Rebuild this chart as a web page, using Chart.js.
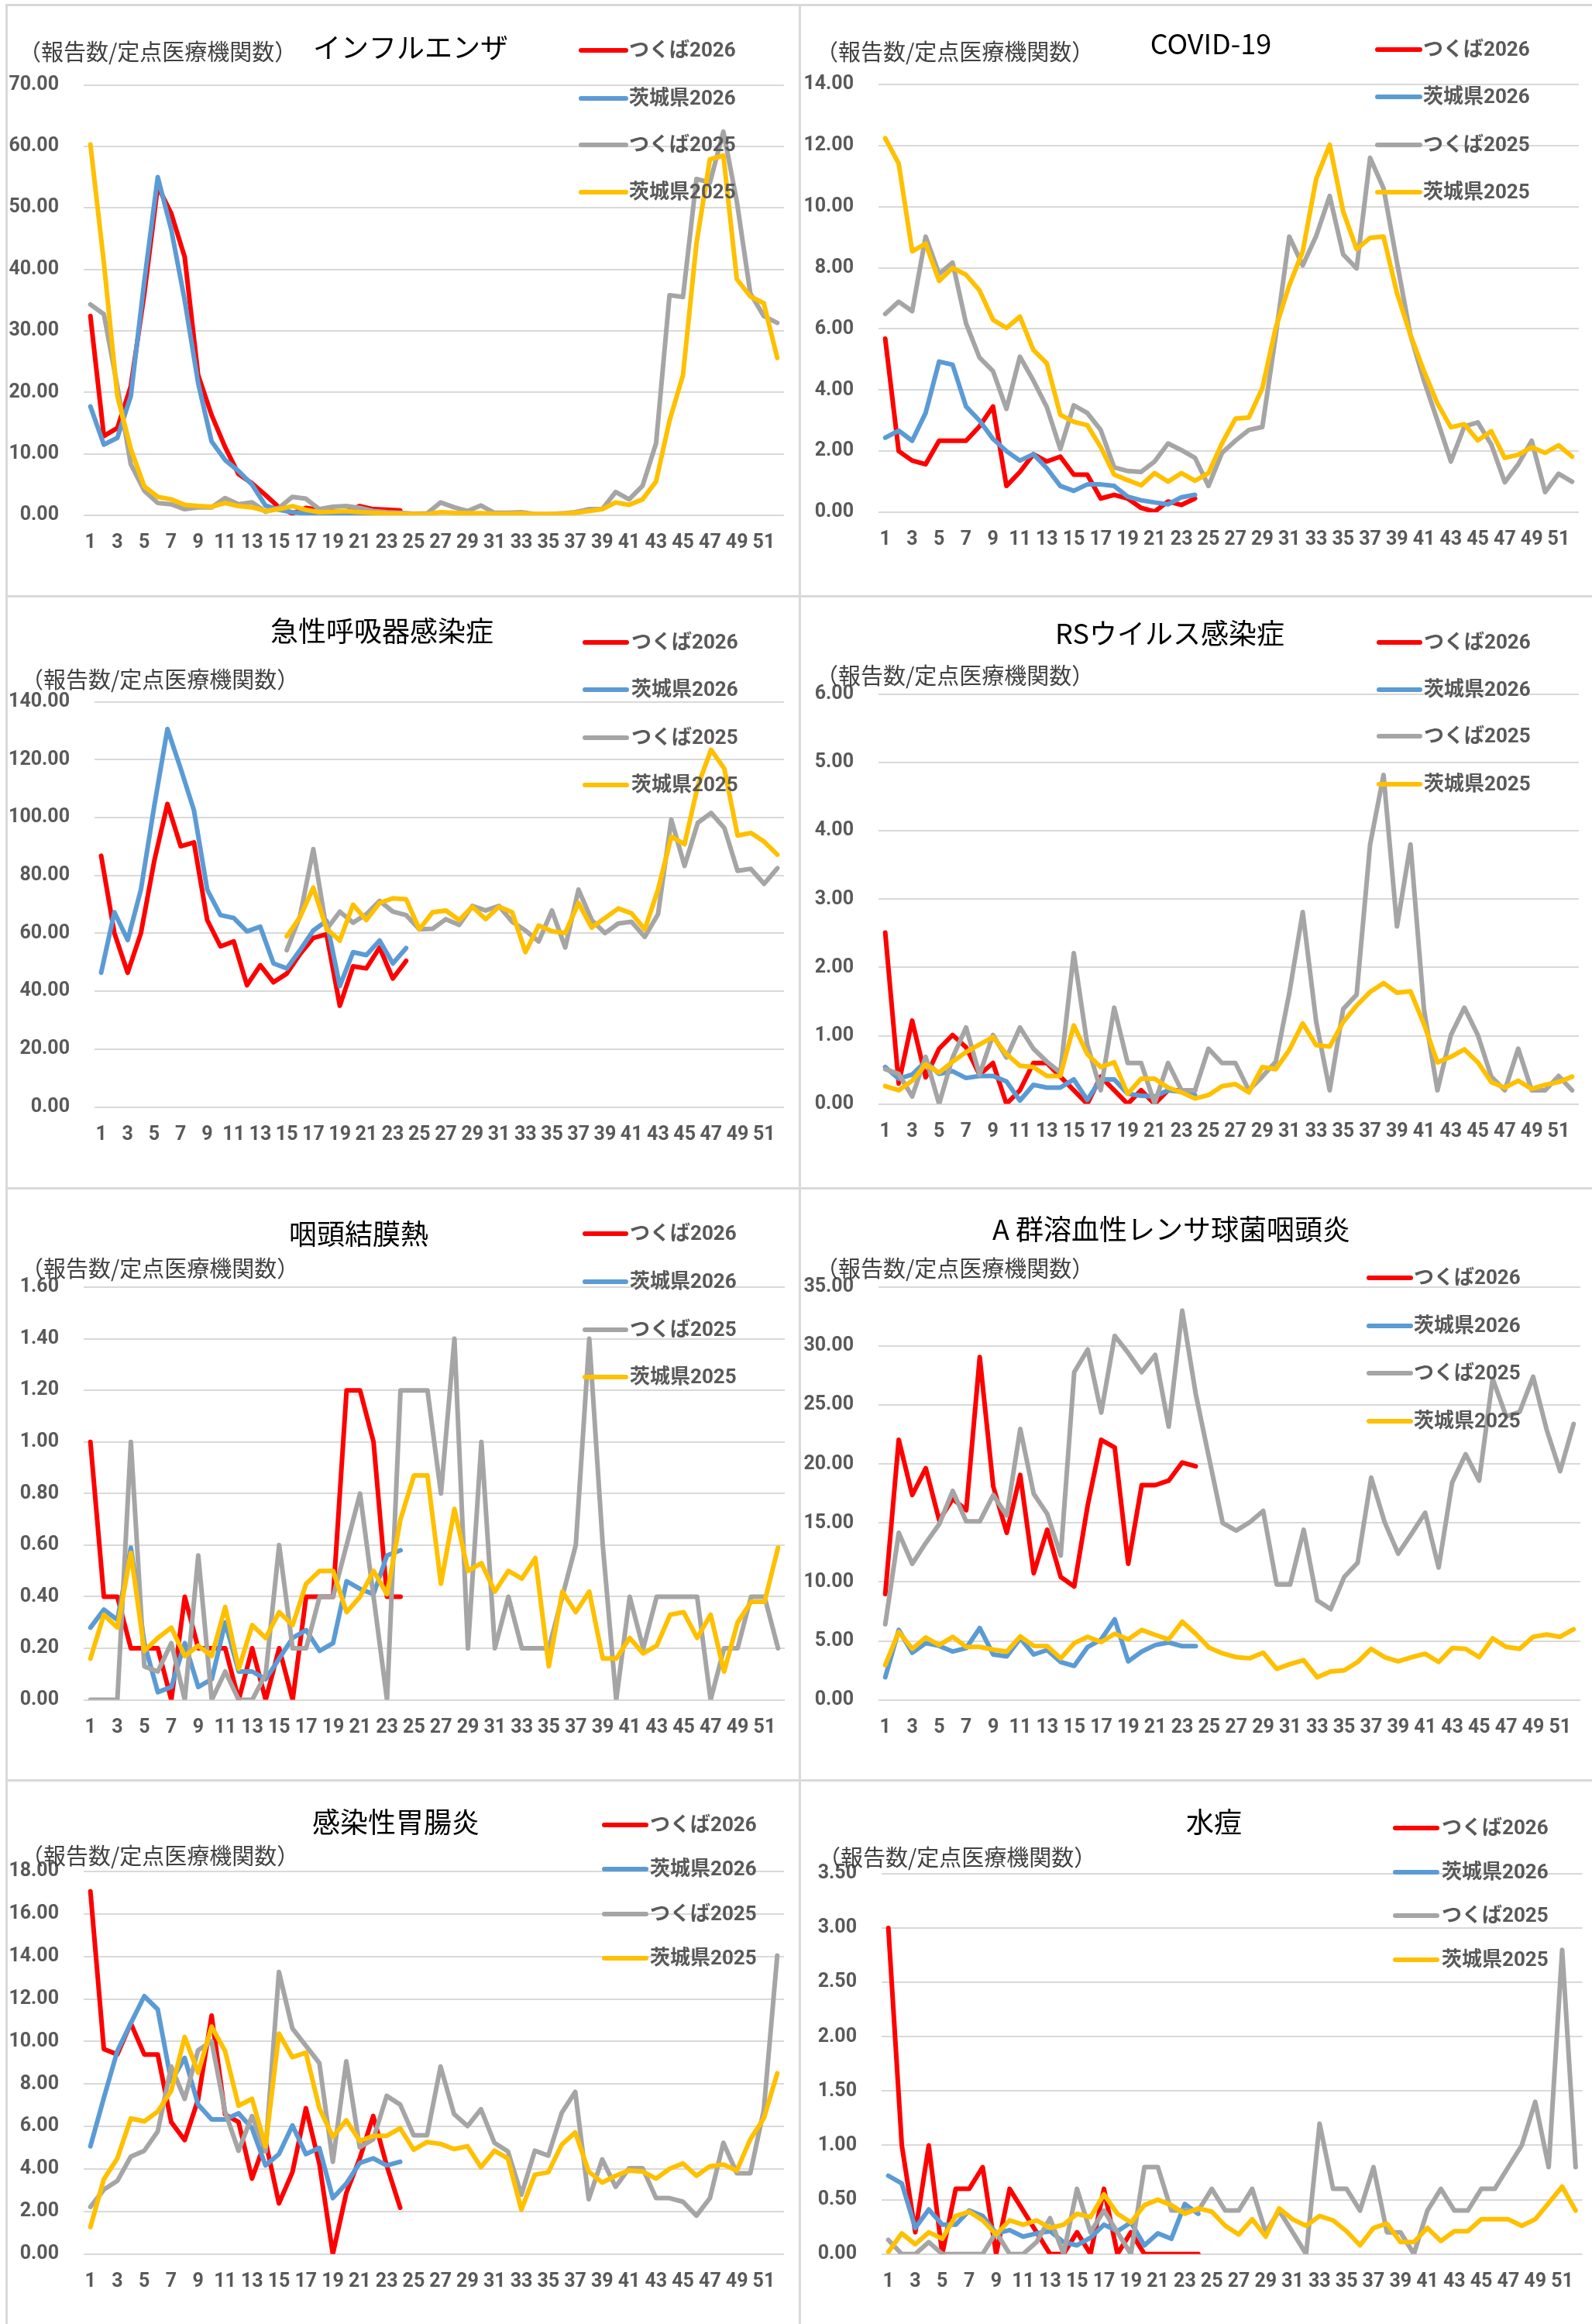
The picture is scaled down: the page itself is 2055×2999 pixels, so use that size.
<!DOCTYPE html>
<html><head><meta charset="utf-8">
<script src="https://cdn.jsdelivr.net/npm/chart.js@4.4.1/dist/chart.umd.min.js"></script>
<style>
html,body{margin:0;padding:0;background:#fff;}
body{width:2055px;height:2999px;position:relative;overflow:hidden;}
.ln{position:absolute;background:#d9d9d9;}
canvas{position:absolute;}
</style></head><body>
<div class="ln" style="left:7px;top:5px;width:2048px;height:3px"></div>
<div class="ln" style="left:7px;top:768px;width:2048px;height:3px"></div>
<div class="ln" style="left:7px;top:1532px;width:2048px;height:3px"></div>
<div class="ln" style="left:7px;top:2296px;width:2048px;height:3px"></div>
<div class="ln" style="left:7px;top:5px;width:3px;height:2994px"></div>
<div class="ln" style="left:1031px;top:5px;width:3px;height:2994px"></div>
<script>
// ---- categories / labels ----
const weeks = ['1','2','3','4','5','6','7','8','9','10','11','12','13','14','15','16','17','18','19','20','21','22','23','24','25','26','27','28','29','30','31','32','33','34','35','36','37','38','39','40','41','42','43','44','45','46','47','48','49','50','51','52'];
const seriesNames = ['つくば2026','茨城県2026','つくば2025','茨城県2025'];
const seriesColors = ['#FF0000','#5B9BD5','#A5A5A5','#FFC000'];
const titles = ['インフルエンザ','COVID-19','急性呼吸器感染症','RSウイルス感染症','咽頭結膜熱','A 群溶血性レンサ球菌咽頭炎','感染性胃腸炎','水痘'];
const unitLabel = '（報告数/定点医療機関数）';
const axisMax  = [70, 14, 140, 6, 1.6, 35, 18, 3.5];
const axisStep = [10, 2, 20, 1, 0.2, 5, 2, 0.5];

// ---- インフルエンザ ----
const fluTsukuba2026 = [32.4,12.9,14.2,21.0,36.0,53.5,49.1,42.0,22.8,16.3,11.1,6.7,5.2,3.3,1.3,0.3,1.2,0.9,0.6,0.6,1.5,1.0,0.9,0.8];
const fluIbaraki2026 = [17.7,11.5,12.6,19.4,38.0,55.0,46.5,35.0,21.5,12.0,9.0,7.2,5.0,1.6,0.9,0.5,0.3,0.3,0.2,0.2,0.1,0.1,0.1,0.1];
const fluTsukuba2025 = [34.3,32.7,21.0,8.3,4.0,2.0,1.8,1.0,1.3,1.3,2.8,1.8,2.1,0.6,1.2,3.0,2.7,1.0,1.4,1.5,1.2,0.7,0.5,0.4,0.25,0.3,2.1,1.3,0.7,1.6,0.4,0.4,0.5,0.2,0.2,0.3,0.5,1.0,1.0,3.8,2.6,4.8,11.7,35.8,35.5,54.7,54.1,62.4,51.0,36.1,32.4,31.3];
const fluIbaraki2025 = [60.3,41.1,19.4,10.8,4.7,3.0,2.6,1.7,1.5,1.4,2.0,1.5,1.3,0.7,1.0,1.5,0.9,0.5,0.6,0.7,0.5,0.4,0.3,0.25,0.2,0.2,0.5,0.4,0.35,0.35,0.25,0.25,0.3,0.2,0.2,0.25,0.4,0.7,1.0,2.1,1.7,2.6,5.5,15.4,22.8,44.2,57.9,58.5,38.4,35.6,34.5,25.6];

// ---- COVID-19 ----
const covTsukuba2026 = [5.68,2.0,1.69,1.57,2.34,2.34,2.34,2.81,3.46,0.86,1.32,1.9,1.66,1.82,1.23,1.23,0.45,0.57,0.45,0.14,0.02,0.35,0.24,0.45];
const covIbaraki2026 = [2.44,2.67,2.34,3.25,4.93,4.83,3.46,3.0,2.4,2.0,1.69,1.9,1.44,0.86,0.7,0.91,0.91,0.86,0.51,0.39,0.32,0.26,0.49,0.57];
const covTsukuba2025 = [6.49,6.89,6.58,9.02,7.8,8.17,6.18,5.06,4.62,3.38,5.09,4.31,3.44,2.07,3.5,3.25,2.69,1.47,1.35,1.32,1.66,2.25,2.03,1.78,0.86,1.94,2.34,2.69,2.79,5.8,9.02,8.08,9.04,10.35,8.44,7.98,11.6,10.6,8.17,5.8,4.31,3.0,1.66,2.81,2.94,2.22,0.98,1.57,2.34,0.66,1.26,1.0];
const covIbaraki2025 = [12.24,11.41,8.54,8.79,7.57,8.0,7.77,7.26,6.3,6.03,6.4,5.31,4.87,3.19,2.96,2.85,2.13,1.23,1.05,0.88,1.28,1.0,1.28,1.03,1.28,2.25,3.06,3.1,4.06,6.05,7.42,8.54,10.91,12.03,9.85,8.61,8.98,9.02,7.17,5.8,4.62,3.56,2.78,2.88,2.35,2.65,1.78,1.88,2.13,1.94,2.19,1.82];

// ---- 急性呼吸器感染症 ----
const ariTsukuba2026 = [86.8,60.1,46.4,60.1,84.9,104.7,90.1,91.4,64.6,55.5,57.2,42.1,49.0,43.1,46.1,52.9,58.4,59.7,35.0,48.6,47.9,55.1,44.4,50.5];
const ariIbaraki2026 = [46.4,67.3,57.7,75.1,103.8,130.6,116.9,102.5,75.1,66.3,65.3,60.7,62.3,49.6,47.9,54.2,61.0,64.3,41.8,53.5,52.5,57.5,49.6,54.9];
const ariTsukuba2025 = [null,null,null,null,null,null,null,null,null,null,null,null,null,null,54.2,66.0,89.1,61.4,67.5,63.7,66.6,71.2,67.5,66.3,61.4,61.6,64.9,62.9,69.5,67.9,69.5,64.0,61.0,57.2,67.9,55.1,75.1,64.6,60.1,63.4,64.0,58.8,66.6,99.3,83.3,98.2,101.6,96.4,81.6,82.3,77.1,82.5];
const ariIbaraki2025 = [null,null,null,null,null,null,null,null,null,null,null,null,null,null,59.0,65.6,75.8,61.6,57.5,69.9,64.6,70.5,72.1,71.8,61.4,67.3,67.9,64.6,69.2,64.9,69.2,67.3,53.5,62.7,60.7,60.1,70.5,62.0,65.3,68.6,66.9,61.4,75.1,93.4,90.8,111.0,123.4,116.9,93.8,94.7,91.7,87.2];

// ---- RSウイルス感染症 ----
const rsvTsukuba2026 = [2.51,0.3,1.22,0.39,0.81,1.01,0.83,0.43,0.6,0.0,0.2,0.6,0.6,0.4,0.2,0.0,0.4,0.2,0.0,0.2,0.0,0.2,0.2,0.2];
const rsvIbaraki2026 = [0.54,0.37,0.43,0.62,0.44,0.48,0.38,0.41,0.41,0.33,0.05,0.28,0.24,0.24,0.36,0.06,0.36,0.36,0.15,0.12,0.11,0.2,0.18,0.13];
const rsvTsukuba2025 = [0.51,0.44,0.11,0.69,0.0,0.68,1.12,0.43,1.01,0.68,1.12,0.81,0.62,0.46,2.21,0.87,0.2,1.41,0.6,0.6,0.01,0.6,0.2,0.2,0.81,0.6,0.6,0.2,0.4,0.62,1.62,2.81,1.2,0.2,1.39,1.6,3.8,4.82,2.6,3.8,1.39,0.2,1.01,1.41,1.01,0.4,0.2,0.81,0.2,0.2,0.41,0.2];
const rsvIbaraki2025 = [0.26,0.2,0.34,0.58,0.46,0.62,0.76,0.87,0.98,0.73,0.56,0.54,0.41,0.41,1.15,0.73,0.54,0.61,0.15,0.37,0.37,0.24,0.17,0.08,0.13,0.26,0.29,0.17,0.54,0.51,0.79,1.18,0.86,0.84,1.2,1.44,1.64,1.77,1.63,1.65,1.17,0.61,0.69,0.8,0.61,0.32,0.24,0.34,0.22,0.28,0.32,0.4];

// ---- 咽頭結膜熱 ----
const pcfTsukuba2026 = [1.0,0.4,0.4,0.2,0.2,0.2,0.0,0.4,0.2,0.2,0.2,0.0,0.2,0.0,0.2,0.0,0.4,0.4,0.4,1.2,1.2,1.0,0.4,0.4];
const pcfIbaraki2026 = [0.28,0.35,0.31,0.59,0.22,0.03,0.05,0.22,0.05,0.08,0.3,0.11,0.11,0.08,0.16,0.24,0.27,0.19,0.22,0.46,0.43,0.41,0.56,0.58];
const pcfTsukuba2025 = [0,0,0,1.0,0.13,0.11,0.22,0,0.56,0,0.11,0,0,0.1,0.6,0.2,0.2,0.4,0.4,0.6,0.8,0.4,0,1.2,1.2,1.2,0.8,1.4,0.2,1.0,0.2,0.4,0.2,0.2,0.2,0.4,0.6,1.4,0.6,0,0.4,0.2,0.4,0.4,0.4,0.4,0,0.2,0.2,0.4,0.4,0.2];
const pcfIbaraki2025 = [0.16,0.33,0.28,0.57,0.19,0.24,0.28,0.17,0.21,0.17,0.36,0.12,0.29,0.24,0.34,0.29,0.45,0.5,0.5,0.34,0.4,0.5,0.41,0.7,0.87,0.87,0.45,0.74,0.5,0.53,0.42,0.5,0.47,0.55,0.13,0.42,0.34,0.42,0.16,0.16,0.24,0.18,0.21,0.33,0.34,0.24,0.33,0.11,0.3,0.38,0.38,0.59];

// ---- A群溶血性レンサ球菌咽頭炎 ----
const gasTsukuba2026 = [8.97,22.05,17.37,19.65,15.22,17.05,16.09,29.07,18.11,14.17,19.07,10.74,14.42,10.42,9.62,16.5,22.05,21.41,11.54,18.21,18.21,18.59,20.13,19.81];
const gasIbaraki2026 = [1.92,5.93,4.0,4.81,4.58,4.1,4.39,6.09,3.85,3.69,5.22,3.85,4.23,3.21,2.88,4.49,5.13,6.83,3.27,4.1,4.65,4.87,4.55,4.55];
const gasTsukuba2025 = [6.41,14.17,11.54,13.3,14.9,17.72,15.13,15.13,17.37,15.64,22.98,17.47,15.77,12.24,27.79,29.71,24.36,30.87,29.42,27.79,29.26,23.17,33.01,25.96,20.45,15.0,14.36,15.06,16.03,9.78,9.78,14.42,8.43,7.69,10.42,11.63,18.85,15.06,12.4,14.1,15.87,11.22,18.43,20.83,18.59,27.24,24.04,24.42,27.4,22.92,19.39,23.4];
const gasIbaraki2025 = [2.95,5.77,4.33,5.29,4.65,5.35,4.49,4.49,4.26,4.1,5.38,4.58,4.55,3.53,4.81,5.35,4.9,5.61,5.13,5.93,5.51,5.13,6.63,5.61,4.42,3.94,3.62,3.53,4.0,2.63,3.04,3.37,1.92,2.4,2.5,3.21,4.33,3.62,3.27,3.62,3.91,3.21,4.39,4.33,3.62,5.22,4.49,4.33,5.35,5.54,5.35,5.99];

// ---- 感染性胃腸炎 ----
const gasteTsukuba2026 = [17.06,9.64,9.39,10.86,9.39,9.39,6.21,5.36,7.27,11.22,6.57,6.21,3.55,5.32,2.38,3.85,6.86,4.26,0,2.87,4.5,6.49,4.17,2.18];
const gasteIbaraki2026 = [5.07,7.35,9.55,10.86,12.13,11.51,8.12,9.23,7.03,6.33,6.33,6.62,5.92,4.17,4.7,6.05,4.7,4.99,2.63,3.31,4.29,4.5,4.17,4.34];
const gasteTsukuba2025 = [2.22,3.03,3.44,4.58,4.86,5.77,8.82,7.3,9.59,10.01,6.7,4.86,6.49,4.83,13.27,10.61,9.8,8.98,4.34,9.07,5.02,5.4,7.44,7.03,5.59,5.59,8.82,6.59,6.02,6.81,5.23,4.83,2.79,4.86,4.63,6.65,7.63,2.58,4.45,3.16,4.04,4.04,2.63,2.63,2.46,1.81,2.63,5.23,3.8,3.8,6.78,14.04];
const gasteIbaraki2025 = [1.27,3.52,4.5,6.38,6.24,6.7,7.68,10.21,8.53,10.7,9.55,6.98,7.3,5.07,10.37,9.26,9.47,6.86,5.51,6.29,5.32,5.56,5.56,5.92,4.91,5.27,5.18,4.94,5.07,4.09,4.86,4.5,2.09,3.73,3.85,5.15,5.72,3.88,3.36,3.68,3.93,3.88,3.55,4.01,4.26,3.68,4.13,4.21,3.93,5.4,6.38,8.5];

// ---- 水痘 ----
const varTsukuba2026 = [3.0,1.0,0.2,1.0,0,0.6,0.6,0.8,0,0.6,0.4,0.2,0,0,0.2,0,0.6,0,0.2,0,0,0,0,0];
const varIbaraki2026 = [0.72,0.65,0.24,0.41,0.27,0.27,0.4,0.35,0.19,0.22,0.16,0.19,0.21,0.11,0.08,0.15,0.27,0.21,0.29,0.08,0.19,0.14,0.46,0.37];
const varTsukuba2025 = [0.13,0,0,0.11,0,0,0,0,0.2,0,0,0.11,0.33,0,0.6,0.2,0.4,0.2,0,0.8,0.8,0.4,0.4,0.4,0.6,0.4,0.4,0.6,0.2,0.4,0.2,0,1.2,0.6,0.6,0.4,0.8,0.2,0.2,0,0.4,0.6,0.4,0.4,0.6,0.6,0.8,1.0,1.4,0.8,2.8,0.8];
const varIbaraki2025 = [0.02,0.19,0.09,0.2,0.14,0.35,0.39,0.31,0.18,0.31,0.27,0.31,0.24,0.27,0.37,0.34,0.55,0.37,0.29,0.45,0.5,0.45,0.37,0.42,0.39,0.26,0.18,0.32,0.16,0.42,0.32,0.26,0.35,0.31,0.21,0.08,0.24,0.28,0.11,0.11,0.24,0.12,0.21,0.21,0.32,0.32,0.32,0.26,0.32,0.47,0.62,0.4];

const panelSeries = [
  [fluTsukuba2026, fluIbaraki2026, fluTsukuba2025, fluIbaraki2025],
  [covTsukuba2026, covIbaraki2026, covTsukuba2025, covIbaraki2025],
  [ariTsukuba2026, ariIbaraki2026, ariTsukuba2025, ariIbaraki2025],
  [rsvTsukuba2026, rsvIbaraki2026, rsvTsukuba2025, rsvIbaraki2025],
  [pcfTsukuba2026, pcfIbaraki2026, pcfTsukuba2025, pcfIbaraki2025],
  [gasTsukuba2026, gasIbaraki2026, gasTsukuba2025, gasIbaraki2025],
  [gasteTsukuba2026, gasteIbaraki2026, gasteTsukuba2025, gasteIbaraki2025],
  [varTsukuba2026, varIbaraki2026, varTsukuba2025, varIbaraki2025]
];

// ---- layout (page pixels) ----
const panels = [
  {x:0,y:8,w:1031,h:760},{x:1034,y:8,w:1021,h:760},
  {x:0,y:771,w:1031,h:761},{x:1034,y:771,w:1021,h:761},
  {x:0,y:1535,w:1031,h:761},{x:1034,y:1535,w:1021,h:761},
  {x:0,y:2299,w:1031,h:700},{x:1034,y:2299,w:1021,h:700}
];
const geom = [
  {L:108,R:1012,T:109.5,B:665, tx:530,ty:61, ux:40,uy:67, l1:750,l2:808,lt:812, rows:[65,127,187,248]},
  {L:1134,R:2038,T:109,B:661, tx:1563,ty:56, ux:1069,uy:67, l1:1778,l2:1833,lt:1837, rows:[64,125,187,248]},
  {L:122,R:1012,T:905.6,B:1428.6, tx:493,ty:814, ux:43,uy:877, l1:755,l2:809,lt:815, rows:[829,890,952,1013]},
  {L:1134,R:2038,T:896,B:1424.6, tx:1510,ty:817, ux:1069,uy:872, l1:1780,l2:1833,lt:1838, rows:[829,890,950,1012]},
  {L:108,R:1013,T:1661,B:2193.6, tx:463,ty:1592, ux:43,uy:1637, l1:755,l2:808,lt:813, rows:[1592,1654,1716,1777]},
  {L:1134,R:2040,T:1661,B:2193.6, tx:1512,ty:1586, ux:1069,uy:1637, l1:1767,l2:1821,lt:1825, rows:[1649,1711,1772,1834]},
  {L:108,R:1012,T:2415,B:2908.7, tx:511,ty:2351, ux:43,uy:2395, l1:780,l2:834,lt:839, rows:[2355,2412,2470,2527]},
  {L:1138,R:2043,T:2418,B:2908.7, tx:1567,ty:2351, ux:1072,uy:2397, l1:1801,l2:1855,lt:1861, rows:[2359,2416,2472,2529]}
];

const numFont = 'Roboto, "Liberation Sans", sans-serif';

const panelText = {
  id: 'panelText',
  afterDraw(chart, args, o) {
    const ctx = chart.ctx;
    ctx.save();
    ctx.textBaseline = 'middle';
    ctx.fillStyle = '#000';
    ctx.font = '36px "Noto Sans CJK JP"';
    ctx.textAlign = 'center';
    ctx.fillText(o.title, o.tx, o.ty);
    ctx.fillStyle = '#404040';
    ctx.font = '29px "Noto Sans CJK JP"';
    ctx.textAlign = 'left';
    ctx.fillText(o.unit, o.ux - 16, o.uy);
    chart.data.datasets.forEach((ds, k) => {
      const y = o.rows[k];
      ctx.strokeStyle = ds.borderColor;
      ctx.lineWidth = 6;
      ctx.lineCap = 'round';
      ctx.beginPath(); ctx.moveTo(o.l1, y); ctx.lineTo(o.l2, y); ctx.stroke();
      ctx.fillStyle = '#595959';
      ctx.font = 'bold 26px Roboto, "Noto Sans CJK JP"';
      ctx.fillText(ds.label, o.lt, y + 1);
    });
    ctx.restore();
  }
};

panels.forEach((P, i) => {
  const G = geom[i];
  const c = document.createElement('canvas');
  c.width = P.w; c.height = P.h;
  c.style.left = P.x + 'px'; c.style.top = P.y + 'px';
  c.style.width = P.w + 'px'; c.style.height = P.h + 'px';
  document.body.appendChild(c);
  const datasets = seriesNames.map((name, k) => ({
    label: name, data: panelSeries[i][k],
    borderColor: seriesColors[k], backgroundColor: seriesColors[k],
    borderWidth: 6, pointRadius: 0, pointHoverRadius: 0, tension: 0, fill: false,
    spanGaps: false, borderJoinStyle: 'round', borderCapStyle: 'round', order: 3 - k
  }));
  new Chart(c, {
    type: 'line',
    data: { labels: weeks, datasets },
    options: {
      responsive: false, animation: false, devicePixelRatio: 1,
      layout: { autoPadding: false, padding: { left: 0, top: G.T - P.y, right: (P.x + P.w) - G.R, bottom: 0 } },
      plugins: {
        legend: { display: false }, tooltip: { enabled: false }, title: { display: false },
        panelText: {
          title: titles[i], tx: G.tx - P.x, ty: G.ty - P.y,
          unit: unitLabel, ux: G.ux - P.x, uy: G.uy - P.y,
          l1: G.l1 - P.x, l2: G.l2 - P.x, lt: G.lt - P.x,
          rows: G.rows.map(r => r - P.y)
        }
      },
      scales: {
        x: {
          type: 'category', offset: true,
          grid: { display: false, drawTicks: false }, border: { display: false },
          ticks: {
            autoSkip: false, maxRotation: 0, minRotation: 0, padding: 21, color: '#595959',
            font: { family: numFont, size: 25, weight: 'bold' },
            callback: function (v, idx) { return idx % 2 === 0 ? this.getLabelForValue(v) : ''; }
          },
          afterFit: (s) => { s.height = (P.y + P.h) - G.B; }
        },
        y: {
          min: 0, max: axisMax[i],
          grid: { color: '#d9d9d9', lineWidth: 2, drawTicks: false }, border: { display: false },
          ticks: {
            stepSize: axisStep[i], padding: 32, color: '#595959',
            font: { family: numFont, size: 25, weight: 'bold' },
            callback: (v) => Number(v).toFixed(2)
          },
          afterFit: (s) => { s.width = G.L - P.x; }
        }
      }
    },
    plugins: [panelText]
  });
});
</script>
</body></html>
